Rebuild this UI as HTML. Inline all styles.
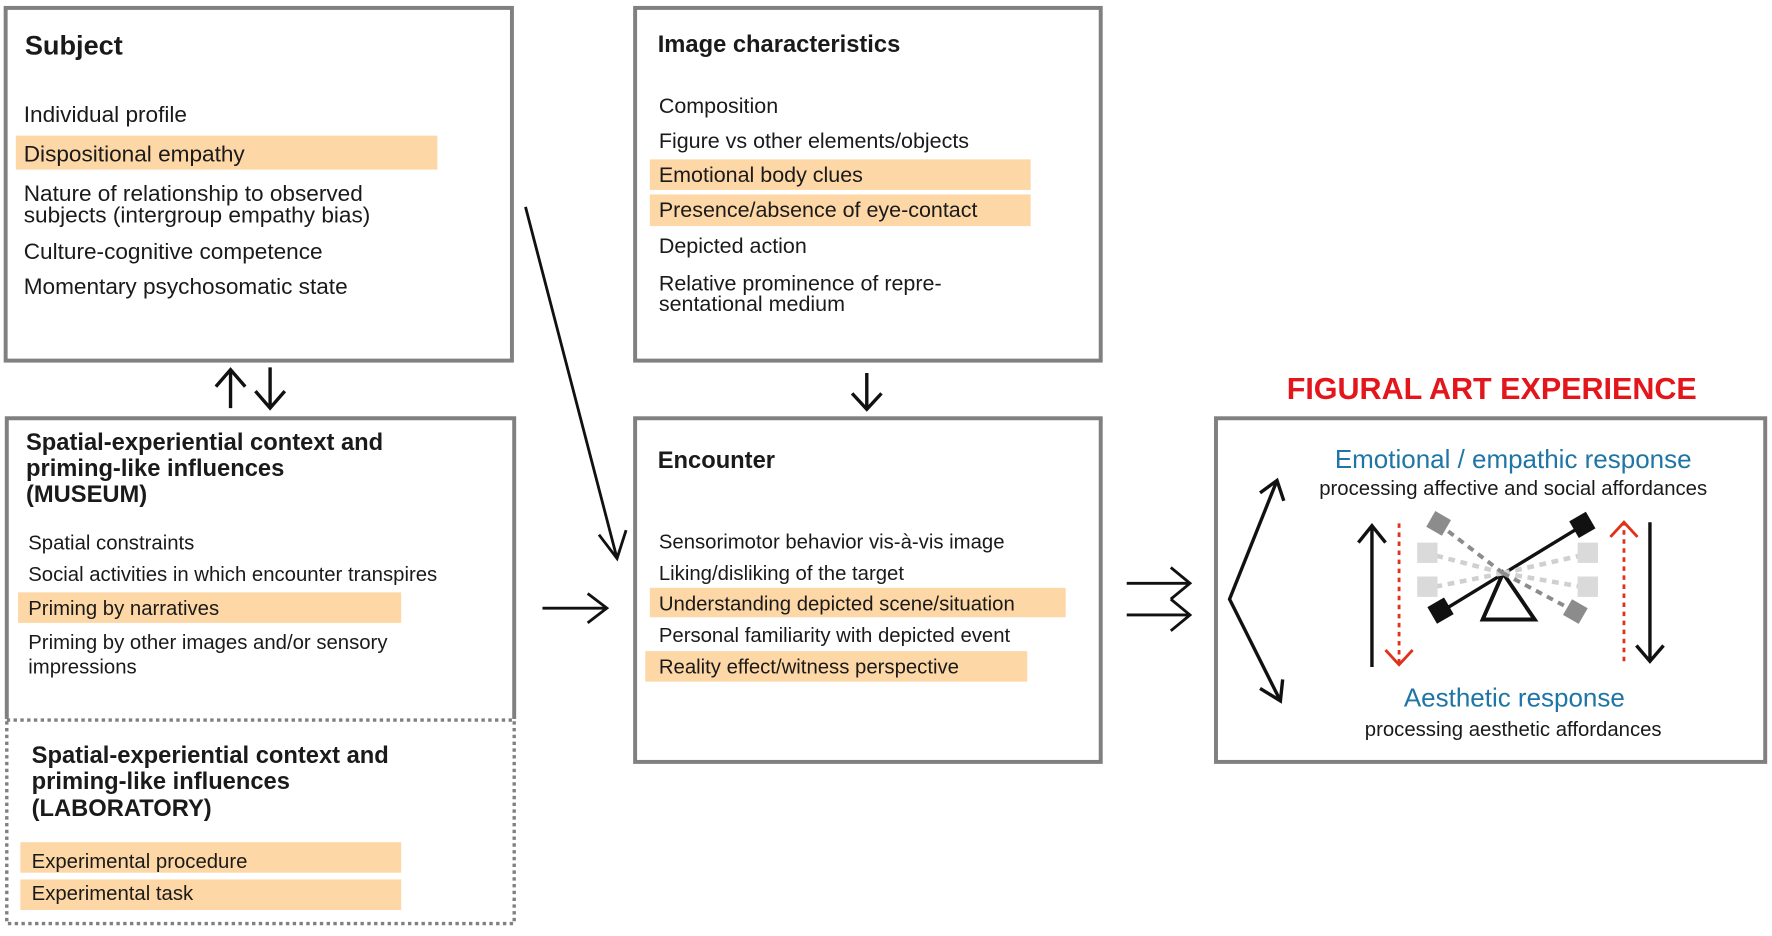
<!DOCTYPE html>
<html><head><meta charset="utf-8"><style>
html,body{margin:0;padding:0;background:#fff;}
svg{display:block;}
text{font-family:"Liberation Sans",sans-serif;fill:#1a1a1a;}
.t{font-weight:bold;}
</style></head><body>
<svg width="1772" height="936" viewBox="0 0 1568 828" preserveAspectRatio="none" xmlns="http://www.w3.org/2000/svg">
<defs>
<marker id="ah" viewBox="0 0 10 10" refX="9" refY="5" markerWidth="10" markerHeight="10" orient="auto" markerUnits="userSpaceOnUse"><path d="M0,0 L9,5 L0,10" fill="none" stroke="#111" stroke-width="1.6"/></marker>
</defs>
<!-- Subject -->
<rect x="5" y="7" width="448" height="312" fill="#fff" stroke="#808080" stroke-width="3.5"/>
<text x="22" y="48" class="t" font-size="24">Subject</text>
<text x="21" y="108" font-size="20">Individual profile</text>
<rect x="14" y="120" width="373" height="30" fill="#fdd7a5"/>
<text x="21" y="143" font-size="20">Dispositional empathy</text>
<text x="21" y="178" font-size="20">Nature of relationship to observed</text>
<text x="21" y="197" font-size="20">subjects (intergroup empathy bias)</text>
<text x="21" y="229" font-size="20">Culture-cognitive competence</text>
<text x="21" y="260" font-size="20">Momentary psychosomatic state</text>
<!-- up/down arrows -->
<g stroke="#111" stroke-width="3" fill="none">
<path d="M204,361 V327 M191,342 L204,327 L217,342"/>
<path d="M239,325 V360 M226,346 L239,361 L252,346"/>
<path d="M767,330 V361 M754,348 L767,362 L780,348"/>
</g>
<!-- Museum -->
<path d="M6,636 V370 H455 V636" fill="none" stroke="#808080" stroke-width="3.5"/>
<text x="23" y="398" class="t" font-size="21">Spatial-experiential  context and</text>
<text x="23" y="421" class="t" font-size="21">priming-like influences</text>
<text x="23" y="444" class="t" font-size="21">(MUSEUM)</text>
<text x="25" y="486" font-size="18">Spatial constraints</text>
<text x="25" y="514" font-size="18">Social activities in which encounter transpires</text>
<rect x="16" y="524" width="339" height="27" fill="#fdd7a5"/>
<text x="25" y="544" font-size="18">Priming by narratives</text>
<text x="25" y="574" font-size="18">Priming by other images and/or sensory</text>
<text x="25" y="596" font-size="18">impressions</text>
<!-- Laboratory -->
<rect x="6" y="637" width="449" height="180" fill="none" stroke="#808080" stroke-width="3" stroke-dasharray="3,3"/>
<text x="28" y="675" class="t" font-size="21">Spatial-experiential context and</text>
<text x="28" y="698" class="t" font-size="21">priming-like influences</text>
<text x="28" y="722" class="t" font-size="21">(LABORATORY)</text>
<rect x="18" y="745" width="337" height="27" fill="#fdd7a5"/>
<text x="28" y="768" font-size="18">Experimental procedure</text>
<rect x="18" y="778" width="337" height="27" fill="#fdd7a5"/>
<text x="28" y="796" font-size="18">Experimental task</text>
<!-- Image characteristics -->
<rect x="562" y="7" width="412" height="312" fill="#fff" stroke="#808080" stroke-width="3.5"/>
<text x="582" y="46" class="t" font-size="21">Image characteristics</text>
<text x="583" y="100" font-size="19">Composition</text>
<text x="583" y="131" font-size="19">Figure vs other elements/objects</text>
<rect x="575" y="141" width="337" height="27" fill="#fdd7a5"/>
<text x="583" y="161" font-size="19">Emotional body clues</text>
<rect x="575" y="172" width="337" height="28" fill="#fdd7a5"/>
<text x="583" y="192" font-size="19">Presence/absence of eye-contact</text>
<text x="583" y="224" font-size="19">Depicted action</text>
<text x="583" y="257" font-size="19">Relative prominence of repre-</text>
<text x="583" y="275" font-size="19">sentational medium</text>
<!-- Encounter -->
<rect x="562" y="370" width="412" height="304" fill="#fff" stroke="#808080" stroke-width="3.5"/>
<text x="582" y="414" class="t" font-size="21">Encounter</text>
<text x="583" y="485" font-size="18">Sensorimotor behavior vis-à-vis image</text>
<text x="583" y="513" font-size="18">Liking/disliking of the target</text>
<rect x="575" y="520" width="368" height="26" fill="#fdd7a5"/>
<text x="583" y="540" font-size="18">Understanding depicted scene/situation</text>
<text x="583" y="568" font-size="18">Personal familiarity with depicted event</text>
<rect x="571" y="576" width="338" height="27" fill="#fdd7a5"/>
<text x="583" y="596" font-size="18">Reality effect/witness perspective</text>
<!-- connectors -->
<g stroke="#111" stroke-width="2.5" fill="none">
<path d="M465,183 L546,494 M530,473 L546,494 L554,469"/>
<path d="M480,538 H536 M520,525 L537,538 L520,551"/>
<path d="M997,516 H1052 M1036,502 L1053,516 L1036,530"/>
<path d="M997,544 H1052 M1036,530 L1053,544 L1036,558"/>
</g>
<!-- Figural -->
<text x="1320" y="353" text-anchor="middle" class="t" font-size="27" style="fill:#e3161b">FIGURAL ART EXPERIENCE</text>
<rect x="1076" y="370" width="486" height="304" fill="#fff" stroke="#808080" stroke-width="3.5"/>
<text x="1339" y="414" text-anchor="middle" font-size="23" style="fill:#1f76a6">Emotional / empathic response</text>
<text x="1339" y="438" text-anchor="middle" font-size="18">processing affective and social affordances</text>
<text x="1340" y="625" text-anchor="middle" font-size="23" style="fill:#1f76a6">Aesthetic response</text>
<text x="1339" y="651" text-anchor="middle" font-size="18">processing aesthetic affordances</text>
<g stroke="#111" stroke-width="3" fill="none">
<path d="M1130,425 L1088,530 L1133,620"/>
<path d="M1115,436 L1130,425 L1136,443"/>
<path d="M1115,609 L1133,620 L1135,601"/>
<path d="M1214,590 V465 M1202,480 L1214,465 L1226,480"/>
<path d="M1460,462 V585 M1448,571 L1460,585 L1472,571"/>
<path d="M1312,548 L1330,507 L1358,548 Z" stroke-width="3.5"/>
<path d="M1277,540 L1400,465"/>
</g>
<g stroke="#e0321a" stroke-width="2.5" fill="none">
<path d="M1238,463 V588" stroke-dasharray="4,4"/>
<path d="M1226,575 L1238,588 L1250,575"/>
<path d="M1437,585 V462" stroke-dasharray="4,4"/>
<path d="M1425,475 L1437,462 L1449,475"/>
</g>
<g stroke="#d0d0d0" stroke-width="4" fill="none" stroke-dasharray="6,5">
<path d="M1330,507 L1265,490 M1330,507 L1265,520 M1330,507 L1405,490 M1330,507 L1405,520"/>
</g>
<g stroke="#8c8c8c" stroke-width="3.5" fill="none" stroke-dasharray="6,5">
<path d="M1330,507 L1275,465 M1330,507 L1392,540"/>
</g>
<g fill="#dadada">
<rect x="1254" y="480" width="18" height="18"/><rect x="1254" y="510" width="18" height="18"/>
<rect x="1396" y="480" width="18" height="18"/><rect x="1396" y="510" width="18" height="18"/>
</g>
<g fill="#8c8c8c">
<rect x="1265" y="455" width="16" height="16" transform="rotate(30 1273 463)"/>
<rect x="1386" y="533" width="16" height="16" transform="rotate(30 1394 541)"/>
</g>
<g fill="#111">
<rect x="1266" y="532" width="17" height="17" transform="rotate(-30 1274 540)"/>
<rect x="1392" y="456" width="17" height="17" transform="rotate(-30 1400 465)"/>
</g>
</svg>
</body></html>
